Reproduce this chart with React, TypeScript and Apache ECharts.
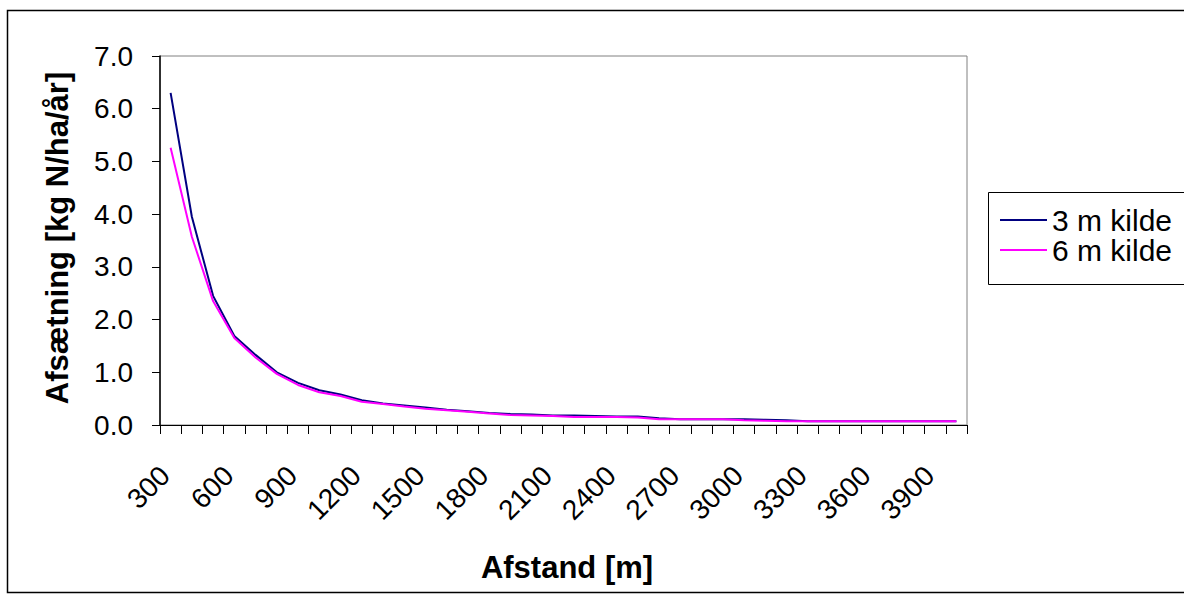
import React, { useEffect, useRef } from "react";
import * as echarts from "echarts";

const distances = [
  300, 400, 500, 600, 700, 800, 900, 1000, 1100, 1200, 1300, 1400, 1500, 1600, 1700, 1800, 1900,
  2000, 2100, 2200, 2300, 2400, 2500, 2600, 2700, 2800, 2900, 3000, 3100, 3200, 3300, 3400, 3500,
  3600, 3700, 3800, 3900, 4000,
];
const kilde3m = [
  6.3, 3.95, 2.45, 1.69, 1.33, 1.0, 0.8, 0.66, 0.58, 0.47, 0.41, 0.37, 0.33, 0.29, 0.26, 0.23, 0.21,
  0.2, 0.18, 0.18, 0.17, 0.16, 0.16, 0.13, 0.11, 0.11, 0.11, 0.11, 0.1, 0.09, 0.07, 0.07, 0.07,
  0.07, 0.07, 0.07, 0.07, 0.07,
];
const kilde6m = [
  5.26, 3.57, 2.35, 1.65, 1.28, 0.97, 0.76, 0.62, 0.55, 0.44, 0.4, 0.35, 0.31, 0.28, 0.25, 0.22, 0.19,
  0.18, 0.17, 0.15, 0.15, 0.15, 0.14, 0.11, 0.11, 0.11, 0.11, 0.09, 0.08, 0.07, 0.07, 0.07, 0.07,
  0.07, 0.07, 0.07, 0.07, 0.07,
];
const seriesNames = ["3 m kilde", "6 m kilde"];
const xTitle = "Afstand [m]";
const yTitle = "Afsætning [kg N/ha/år]";

const FONT = "'Liberation Sans', Arial, sans-serif";

export default function App() {
  const ref = useRef<HTMLDivElement>(null);
  useEffect(() => {
    if (!ref.current) return;
    const chart = echarts.init(ref.current, undefined, { renderer: "svg" });
    chart.setOption({
      animation: false,
      backgroundColor: "#ffffff",
      grid: {
        left: 160,
        top: 56,
        right: 217,
        bottom: 180,
        show: true,
        borderColor: "#808080",
        borderWidth: 1,
        containLabel: false,
      },
      legend: {
        orient: "vertical",
        left: 995,
        top: 200,
        icon: "rect",
        itemWidth: 47,
        itemHeight: 2,
        itemGap: 0,
        textStyle: { fontFamily: FONT, fontSize: 30, color: "#000", lineHeight: 30 },
        data: seriesNames,
      },
      xAxis: {
        type: "category",
        data: distances.map(String),
        boundaryGap: true,
        axisLine: { show: true, lineStyle: { color: "#000", width: 1 } },
        axisTick: { show: true, interval: 0, length: 9, lineStyle: { color: "#000" } },
        axisLabel: {
          interval: 2,
          rotate: 45,
          margin: 40,
          padding: [0, 8, 0, 0],
          fontFamily: FONT,
          fontSize: 28,
          color: "#000",
        },
        splitLine: { show: false },
      },
      yAxis: {
        type: "value",
        min: 0,
        max: 7,
        interval: 1,
        axisLine: { show: true, lineStyle: { color: "#000", width: 1.5 } },
        axisTick: { show: true, length: 8, lineStyle: { color: "#000" } },
        axisLabel: {
          margin: 27,
          fontFamily: FONT,
          fontSize: 28,
          color: "#000",
          formatter: (v: number) => v.toFixed(1),
        },
        splitLine: { show: false },
      },
      series: [
        {
          name: seriesNames[0],
          type: "line",
          data: kilde3m,
          showSymbol: false,
          symbol: "none",
          lineStyle: { color: "#000080", width: 2 },
          itemStyle: { color: "#000080" },
        },
        {
          name: seriesNames[1],
          type: "line",
          data: kilde6m,
          showSymbol: false,
          symbol: "none",
          lineStyle: { color: "#ff00ff", width: 2 },
          itemStyle: { color: "#ff00ff" },
        },
      ],
      graphic: [
        {
          type: "rect",
          silent: true,
          shape: { x: 7.5, y: 10.5, width: 1200, height: 582 },
          style: { fill: "none", stroke: "#000", lineWidth: 1.5 },
          z: -1,
        },
        {
          type: "rect",
          silent: true,
          shape: { x: 988.5, y: 192.5, width: 220, height: 92 },
          style: { fill: "none", stroke: "#000", lineWidth: 1 },
        },
        {
          type: "text",
          x: 567,
          y: 567,
          style: {
            text: xTitle,
            fontFamily: FONT,
            fontWeight: "bold",
            fontSize: 31,
            fill: "#000",
            align: "center",
            verticalAlign: "middle",
          },
        },
        {
          type: "text",
          x: 57,
          y: 238,
          rotation: Math.PI / 2,
          style: {
            text: yTitle,
            fontFamily: FONT,
            fontWeight: "bold",
            fontSize: 31,
            fill: "#000",
            align: "center",
            verticalAlign: "middle",
          },
        },
      ],
    });
    return () => chart.dispose();
  }, []);
  return (
    <div
      ref={ref}
      style={{ position: "absolute", left: 0, top: 0, width: 1184, height: 605 }}
    />
  );
}
